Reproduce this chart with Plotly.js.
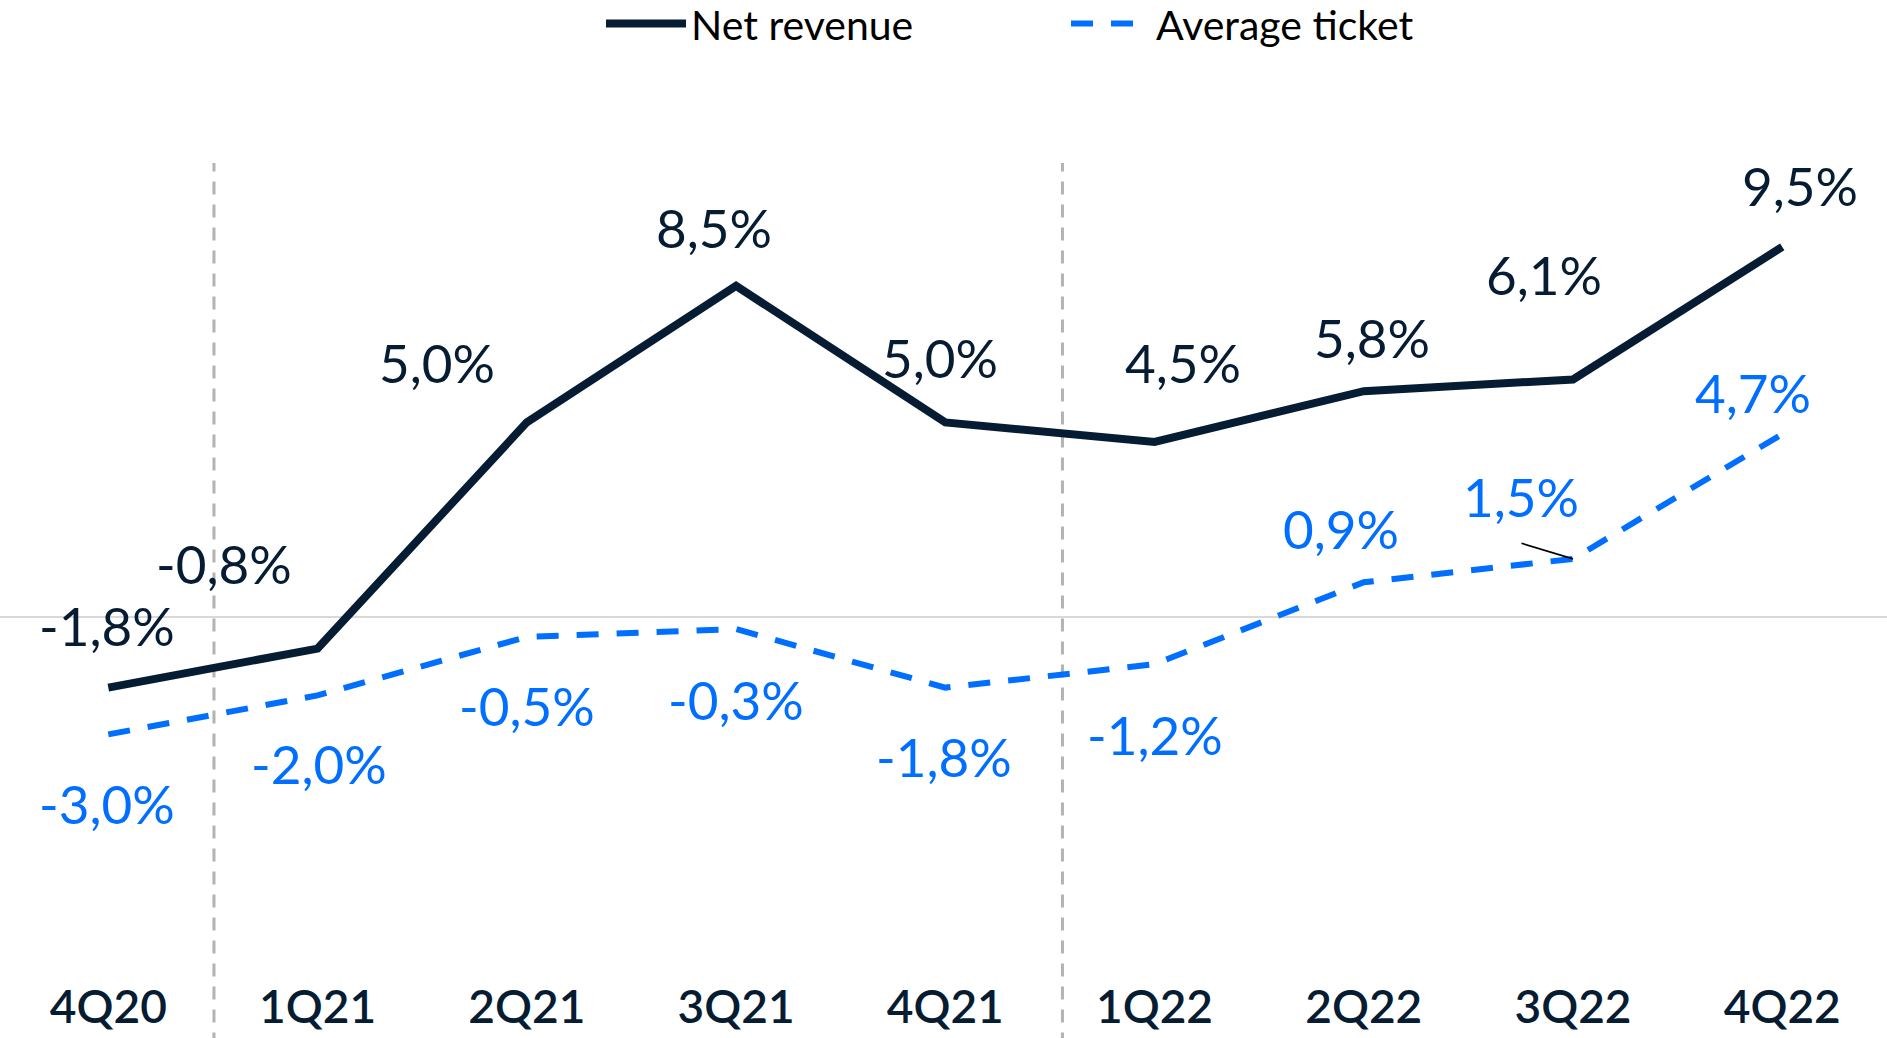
<!DOCTYPE html>
<html>
<head>
<meta charset="utf-8">
<script src="https://cdn.plot.ly/plotly-3.0.1.min.js"></script>
<style>
  html, body { margin: 0; padding: 0; background: #ffffff; }
  #chart { width: 1887px; height: 1038px; }
</style>
</head>
<body>
<div id="chart"></div>
<script>
// ---- data ----
const quarters = ['4Q20', '1Q21', '2Q21', '3Q21', '4Q21', '1Q22', '2Q22', '3Q22', '4Q22'];
const netRevenue = [-1.8, -0.8, 5.0, 8.5, 5.0, 4.5, 5.8, 6.1, 9.5];
const averageTicket = [-3.0, -2.0, -0.5, -0.3, -1.8, -1.2, 0.9, 1.5, 4.7];
const seriesNames = ['Net revenue', 'Average ticket'];

// ---- label placement (pixel offsets from each point) ----
const netLabelDx = [-1, -94, -90, -22, -5, 28, 8, -29, 18];
const netLabelDy = [62, 85, 60, 58, 65, 79, 54, 105, 61];
const avgLabelDx = [-1, 1, 0, 0, -1, 0, -23, -52, -29];
const avgLabelDy = [-69, -68, -69, -70, -69, -70, 54, 62, 42];
const dividerPositions = [0.505, 4.56];

// ---- styles ----
const NAVY = '#061c33';
const BLUE = '#006eff';
const FONT = 'Lato, "Open Sans", sans-serif';

const fmt = v => v.toFixed(1).replace('.', ',') + '%';

const traces = [
  {
    x: quarters, y: netRevenue, name: seriesNames[0],
    type: 'scatter', mode: 'lines',
    line: { color: NAVY, width: 8 },
    hoverinfo: 'skip'
  },
  {
    x: quarters, y: averageTicket, name: seriesNames[1],
    type: 'scatter', mode: 'lines',
    line: { color: BLUE, width: 6, dash: '22px,18px' },
    hoverinfo: 'skip'
  }
];

const annotations = [];
quarters.forEach((q, i) => {
  annotations.push({
    x: q, y: netRevenue[i], xref: 'x', yref: 'y',
    text: fmt(netRevenue[i]), showarrow: false,
    xshift: netLabelDx[i], yshift: netLabelDy[i],
    font: { family: FONT, size: 53, color: NAVY }
  });
  annotations.push({
    x: q, y: averageTicket[i], xref: 'x', yref: 'y',
    text: fmt(averageTicket[i]), showarrow: false,
    xshift: avgLabelDx[i], yshift: avgLabelDy[i],
    font: { family: FONT, size: 53, color: BLUE }
  });
});
// leader line for the 3Q22 average-ticket label
annotations.push({
  x: quarters[7], y: averageTicket[7], xref: 'x', yref: 'y',
  text: ' ', font: { size: 1 },
  showarrow: true, arrowhead: 0, arrowwidth: 1.6, arrowcolor: '#000000',
  ax: -53, ay: -16, standoff: 0, startstandoff: 0
});

const shapes = dividerPositions.map(p => ({
  type: 'line', xref: 'x', yref: 'paper',
  x0: p, x1: p, y0: -0.08, y1: 0.8316,
  line: { color: '#b3b3b3', width: 3, dash: '13px,10px' },
  layer: 'below'
}));

const layout = {
  width: 1887, height: 1038,
  paper_bgcolor: '#ffffff', plot_bgcolor: '#ffffff',
  margin: { l: 0, r: 0, t: 0, b: 70, pad: 0, autoexpand: false },
  font: { family: FONT, color: NAVY },
  showlegend: true,
  legend: {
    orientation: 'h', xref: 'container', yref: 'container',
    x: 0.3185, xanchor: 'left', y: 0.977, yanchor: 'middle',
    font: { family: FONT, size: 41, color: '#000000' },
    itemwidth: 80, entrywidth: 370, entrywidthmode: 'pixels',
    bgcolor: 'rgba(0,0,0,0)', borderwidth: 0, itemclick: false
  },
  xaxis: {
    type: 'category', range: [-0.5176, 8.5006],
    showgrid: false, zeroline: false, showline: false, ticks: '',
    tickfont: { family: FONT, size: 46, color: NAVY, weight: 600 },
    ticklabelstandoff: 8, fixedrange: true
  },
  yaxis: {
    range: [-8.99, 15.83],
    showgrid: false, showticklabels: false, ticks: '',
    zeroline: true, zerolinecolor: '#d9d9d9', zerolinewidth: 2,
    fixedrange: true
  },
  shapes: shapes,
  annotations: annotations
};

Plotly.newPlot('chart', traces, layout, { displayModeBar: false, staticPlot: true });
</script>
</body>
</html>
